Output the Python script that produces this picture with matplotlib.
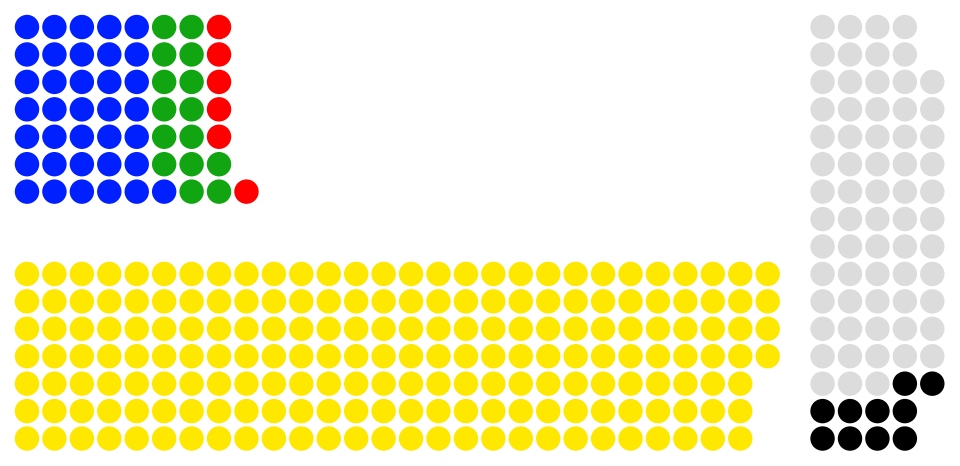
import matplotlib
matplotlib.use("Agg")
import matplotlib.pyplot as plt
from matplotlib.patches import Circle

# seats per party, in fill order
top_parties = ["blue", "green", "red"]
top_seats = [36, 15, 6]
top_colors = ["#0020ff", "#11a511", "#ff0000"]

bottom_parties = ["yellow"]
bottom_seats = [193]
bottom_colors = ["#ffe800"]

cross_parties = ["grey", "black"]
cross_seats = [66, 10]
cross_colors = ["#dcdcdc", "#000000"]
cross_row_sizes = [4, 4] + [5] * 12 + [4, 4]

ROWS = 7
R = 0.445


def expand(seats, colors):
    out = []
    for n, c in zip(seats, colors):
        out += [c] * n
    return out


fig = plt.figure(figsize=(9.6, 4.66), dpi=100)
ax = fig.add_axes([0, 0, 1, 1])

# top bench: column by column, filled from the aisle (bottom) upward
for i, c in enumerate(expand(top_seats, top_colors)):
    col, r = divmod(i, ROWS)
    ax.add_patch(Circle((col, ROWS - 1 - r), R, color=c, lw=0))

# bottom bench: column by column, filled from the aisle (top) downward
for i, c in enumerate(expand(bottom_seats, bottom_colors)):
    col, r = divmod(i, ROWS)
    ax.add_patch(Circle((col, 9 + r), R, color=c, lw=0))

# cross benches: row by row
seats = expand(cross_seats, cross_colors)
k = 0
for row, n in enumerate(cross_row_sizes):
    for col in range(n):
        ax.add_patch(Circle((29 + col, row), R, color=seats[k], lw=0))
        k += 1

ax.set_xlim(-0.984, 34.01)
ax.set_ylim(16.0, -0.984)
ax.set_aspect("equal")
ax.axis("off")
fig.savefig("out.png", dpi=100, facecolor="white")
